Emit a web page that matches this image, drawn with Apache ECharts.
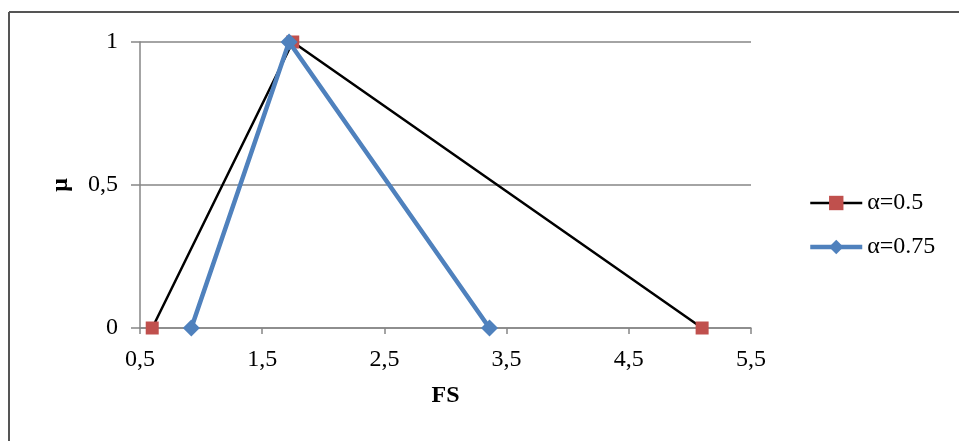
<!DOCTYPE html>
<html>
<head>
<meta charset="utf-8">
<script src="https://cdn.jsdelivr.net/npm/echarts@6/dist/echarts.min.js"></script>
<style>
  html, body { margin: 0; padding: 0; background: #fff; }
  #chart { width: 959px; height: 441px; }
</style>
</head>
<body>
<div id="chart"></div>
<script>
// Membership functions of the fuzzy safety factor at two alpha levels
const seriesNames = ['α=0.5', 'α=0.75'];
const fsAlpha050 = [0.6, 1.75, 5.1];
const muAlpha050 = [0, 1, 0];
const fsAlpha075 = [0.92, 1.72, 3.36];
const muAlpha075 = [0, 1, 0];
const xTicks = [0.5, 1.5, 2.5, 3.5, 4.5, 5.5];
const yTicks = [0, 0.5, 1];

const serif = '"Liberation Serif", "Times New Roman", serif';
const fontSize = 24;
const decimalComma = v => String(v).replace('.', ',');
const pairs = (xs, ys) => xs.map((x, i) => [x, ys[i]]);

const black = '#000000';
const red = '#C0504D';
const blue = '#4F81BD';
const gridGray = '#868686';

const chart = echarts.init(document.getElementById('chart'), null, { renderer: 'canvas' });

chart.setOption({
  animation: false,
  backgroundColor: '#ffffff',
  graphic: [
    { type: 'line', shape: { x1: 9, y1: 12, x2: 959, y2: 12 }, style: { stroke: '#555', lineWidth: 2 }, silent: true },
    { type: 'line', shape: { x1: 9, y1: 12, x2: 9, y2: 441 }, style: { stroke: '#555', lineWidth: 2 }, silent: true }
  ],
  grid: { left: 140, right: 208, top: 42, bottom: 113 },
  legend: {
    orient: 'vertical',
    left: 803,
    top: 186,
    itemWidth: 52,
    itemHeight: 18,
    itemGap: 20,
    textStyle: { fontFamily: serif, fontSize: fontSize, color: black },
    data: [
      { name: seriesNames[0], lineStyle: { color: black, width: 2.5 }, itemStyle: { color: red } },
      { name: seriesNames[1], lineStyle: { color: blue, width: 4.5 }, itemStyle: { color: blue } }
    ]
  },
  xAxis: {
    type: 'value',
    min: xTicks[0],
    max: xTicks[xTicks.length - 1],
    name: 'FS',
    nameLocation: 'middle',
    nameGap: 56,
    nameTextStyle: { fontFamily: serif, fontSize: fontSize, fontWeight: 'bold', color: black },
    axisLine: { show: true, lineStyle: { color: gridGray, width: 1.5 } },
    axisTick: { show: true, length: 6, customValues: xTicks, lineStyle: { color: gridGray, width: 1.5 } },
    axisLabel: {
      customValues: xTicks,
      margin: 20,
      fontFamily: serif, fontSize: fontSize, color: black,
      formatter: decimalComma
    },
    splitLine: { show: false }
  },
  yAxis: {
    type: 'value',
    min: yTicks[0],
    max: yTicks[yTicks.length - 1],
    interval: 0.5,
    name: 'μ',
    nameLocation: 'middle',
    nameGap: 67,
    nameTextStyle: { fontFamily: serif, fontSize: fontSize, fontWeight: 'bold', color: black },
    axisLine: { show: true, lineStyle: { color: gridGray, width: 1.5 } },
    axisTick: { show: true, length: 9, lineStyle: { color: gridGray, width: 1.5 } },
    axisLabel: {
      margin: 22,
      fontFamily: serif, fontSize: fontSize, color: black,
      formatter: decimalComma
    },
    splitLine: { show: true, lineStyle: { color: gridGray, width: 1.5 } }
  },
  series: [
    {
      name: seriesNames[0],
      type: 'line',
      data: pairs(fsAlpha050, muAlpha050),
      symbol: 'rect',
      symbolSize: 13,
      lineStyle: { color: black, width: 2.5 },
      itemStyle: { color: red, borderWidth: 0 },
      z: 2
    },
    {
      name: seriesNames[1],
      type: 'line',
      data: pairs(fsAlpha075, muAlpha075),
      symbol: 'diamond',
      symbolSize: 17,
      lineStyle: { color: blue, width: 4.5 },
      itemStyle: { color: blue, borderWidth: 0 },
      z: 3
    }
  ]
});
</script>
</body>
</html>
